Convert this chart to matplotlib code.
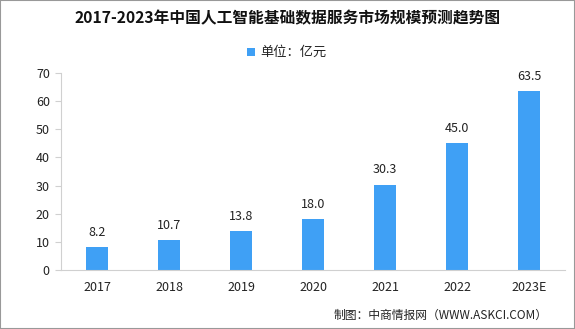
import matplotlib
matplotlib.use("Agg")
import matplotlib.pyplot as plt
from matplotlib.patches import Rectangle

plt.rcParams['font.family'] = ['Noto Sans CJK SC', 'DejaVu Sans']

categories = ["2017", "2018", "2019", "2020", "2021", "2022", "2023E"]
values = [8.2, 10.7, 13.8, 18.0, 30.3, 45.0, 63.5]
yticks = [0, 10, 20, 30, 40, 50, 60, 70]

bar_color = "#3FA0F5"
grey = "#D0D0D0"

fig = plt.figure(figsize=(5.75, 3.29), dpi=100)
fig.patch.set_facecolor("white")
# figure border
fig.add_artist(Rectangle((0, 0), 1, 1, transform=fig.transFigure, fill=False,
                         edgecolor="#999999", linewidth=1.5))

ax = fig.add_axes([0.106, 0.179, 0.877, 0.599])
x = range(len(categories))
bars = ax.bar(x, values, width=0.31, color=bar_color, zorder=2)
for xi, v in zip(x, values):
    ax.text(xi, v + 3.0, f"{v:.1f}", ha="center", va="bottom", fontsize=9, color="#222222")

ax.set_xlim(-0.5, len(categories) - 0.5)
ax.set_ylim(0, 70)
ax.set_yticks(yticks)
ax.set_xticks(list(x))
ax.set_xticklabels(categories, fontsize=9, color="#222222")
ax.tick_params(axis="y", labelsize=9, colors="#222222", length=4, color=grey, pad=4)
ax.tick_params(axis="x", length=0, pad=8)
for s in ["top", "right"]:
    ax.spines[s].set_visible(False)
ax.spines["left"].set_color(grey)
ax.spines["bottom"].set_color(grey)

fig.text(0.5, 0.945, "2017-2023年中国人工智能基础数据服务市场规模预测趋势图",
         ha="center", va="center", fontsize=11.3, fontweight="bold", color="#111111")
# legend
fig.add_artist(Rectangle((0.43, 0.83), 0.0135, 0.024, transform=fig.transFigure,
                         facecolor=bar_color, edgecolor="none"))
fig.text(0.452, 0.842, "单位：亿元", ha="left", va="center", fontsize=9.5, color="#222222")

fig.text(0.953, 0.04, "制图：中商情报网（WWW.ASKCI.COM）", ha="right", va="center",
         fontsize=8.5, color="#222222")

fig.savefig("out.png", dpi=100)
